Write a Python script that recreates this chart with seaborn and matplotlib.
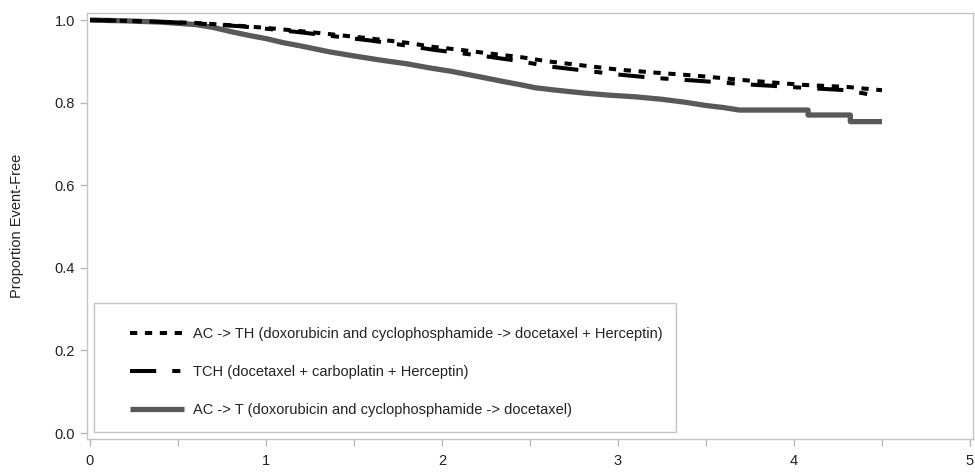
import numpy as np
import pandas as pd
import seaborn as sns
import matplotlib.pyplot as plt
from matplotlib.patches import Rectangle

# Kaplan-Meier style curves
t_acth = [0, 0.3, 0.6, 0.85, 1.0, 1.15, 1.36, 1.6, 1.8, 1.95, 2.1, 2.25, 2.45, 2.6, 2.8, 3.0, 3.2, 3.45, 3.7, 3.9, 4.05, 4.3, 4.45, 4.5]
s_acth = [1.0, 0.997, 0.993, 0.986, 0.981, 0.975, 0.966, 0.955, 0.945, 0.935, 0.928, 0.92, 0.91, 0.9, 0.89, 0.88, 0.873, 0.865, 0.855, 0.848, 0.843, 0.838, 0.832, 0.83]

t_tch = [0, 0.3, 0.6, 0.85, 1.0, 1.2, 1.4, 1.6, 1.8, 1.95, 2.1, 2.25, 2.45, 2.6, 2.8, 3.0, 3.2, 3.45, 3.7, 3.9, 4.05, 4.3, 4.45, 4.5]
s_tch = [1.0, 0.997, 0.992, 0.985, 0.979, 0.97, 0.96, 0.95, 0.938, 0.928, 0.92, 0.912, 0.9, 0.888, 0.878, 0.868, 0.86, 0.853, 0.845, 0.84, 0.836, 0.83, 0.818, 0.815]

# AC -> T: smooth early part, clear steps at the end
t_act = [0, 0.2, 0.4, 0.6, 0.7, 0.8, 0.9, 1.0, 1.1, 1.2, 1.36, 1.5, 1.65, 1.8, 1.93, 2.05, 2.22, 2.35, 2.45, 2.53, 2.65, 2.81, 2.95, 3.1, 3.25, 3.38, 3.5, 3.6, 3.69, 4.08, 4.08, 4.32, 4.32, 4.5]
s_act = [1.0, 0.998, 0.995, 0.989, 0.982, 0.972, 0.963, 0.955, 0.945, 0.937, 0.923, 0.913, 0.903, 0.894, 0.884, 0.876, 0.862, 0.851, 0.843, 0.836, 0.83, 0.823, 0.818, 0.814, 0.808, 0.801, 0.793, 0.788, 0.782, 0.782, 0.77, 0.77, 0.754, 0.754]

labels = ["AC -> TH (doxorubicin and cyclophosphamide -> docetaxel + Herceptin)",
          "TCH (docetaxel + carboplatin + Herceptin)",
          "AC -> T (doxorubicin and cyclophosphamide -> docetaxel)"]

sns.set_style("white")
plt.rcParams['font.family'] = ['Liberation Sans', 'DejaVu Sans']

fig = plt.figure(figsize=(9.75, 4.76), dpi=100)
ax = fig.add_axes([87/975, 37/476, 886/975, 426/476])

df1 = pd.DataFrame({'t': t_acth, 's': s_acth})
df2 = pd.DataFrame({'t': t_tch, 's': s_tch})
df3 = pd.DataFrame({'t': t_act, 's': s_act})

sns.lineplot(data=df3, x='t', y='s', ax=ax, color='#595959', lw=3.8, sort=False,
             estimator=None, label=labels[2], solid_capstyle='butt')
sns.lineplot(data=df2, x='t', y='s', ax=ax, color='black', lw=2.9,
             label=labels[1], dash_capstyle='butt',
             linestyle=(0, (6.5, 4, 2, 4)))
sns.lineplot(data=df1, x='t', y='s', ax=ax, color='black', lw=2.9,
             label=labels[0], dash_capstyle='butt',
             linestyle=(0, (1.8, 1.9)))

ax.set_xlim(-0.017, 5.017)
ax.set_ylim(-0.0145, 1.017)
ax.set_xticks([0, 1, 2, 3, 4, 5])
ax.set_xticks([0.5, 1.5, 2.5, 3.5, 4.5], minor=True)
ax.set_yticks([0, 0.2, 0.4, 0.6, 0.8, 1.0])
ax.set_yticklabels(['0.0', '0.2', '0.4', '0.6', '0.8', '1.0'])
ax.tick_params(which='both', direction='out', length=5, width=1, color='#b8b8b8',
               labelsize=10.5, labelcolor='#222222', bottom=True, left=True)
ax.tick_params(axis='x', pad=6)
for sp in ax.spines.values():
    sp.set_color('#c4c4c4')
    sp.set_linewidth(1)

ax.set_xlabel('')
ax.set_ylabel('Proportion Event-Free', fontsize=10.5, color='#222222')
ax.yaxis.set_label_coords(-0.071, 0.5)

# legend box
ax.add_patch(Rectangle((0.0079, 0.0164), 0.657, 0.303, transform=ax.transAxes,
                       fill=False, edgecolor='#c4c4c4', lw=1, zorder=5))
h, l = ax.get_legend_handles_labels()
order = [2, 1, 0]
ax.legend([h[i] for i in order], [l[i] for i in order], loc='center left',
          bbox_to_anchor=(0.0485, 0.157), frameon=False, fontsize=10.5,
          handlelength=3.7, handletextpad=0.6, labelspacing=1.62,
          borderpad=0, borderaxespad=0, labelcolor='#222222')

fig.savefig('out.png', dpi=100)
